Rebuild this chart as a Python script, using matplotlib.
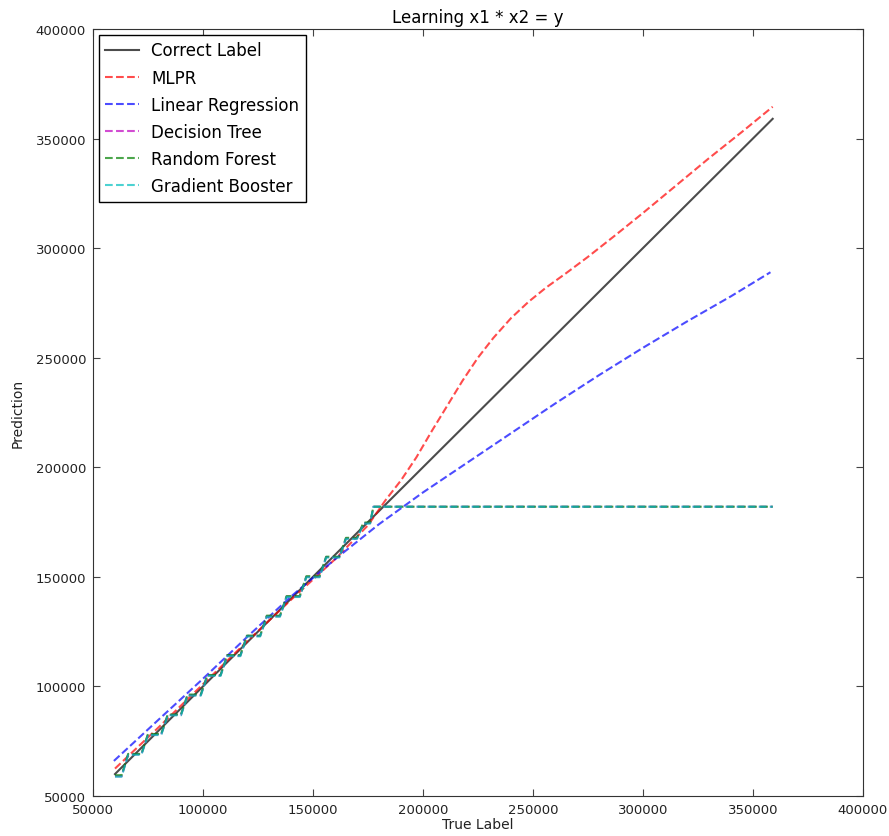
import matplotlib
matplotlib.use("Agg")
import matplotlib.pyplot as plt

# True label range
true_x = [60000, 359000]
true_y = [60000, 359000]

# MLPR predictions (sorted by true label)
mlpr_x = [60000, 80000, 100000, 120000, 140000, 160000, 175000, 183000, 190000, 197000,
          204000, 211000, 218000, 225000, 232000, 240000, 248000, 256000, 265000, 275000,
          287000, 300000, 315000, 330000, 345000, 359000]
mlpr_y = [62500, 81500, 101000, 120500, 139500, 158000, 173500, 185000, 194000, 204500,
          216500, 228000, 239500, 250000, 259000, 268000, 275500, 282000, 288500, 296000,
          305500, 316000, 328500, 341000, 353000, 364500]

# Linear regression predictions
lin_x = [59500, 80000, 100000, 120000, 140000, 160000, 180000, 200000, 220000, 240000,
         260000, 280000, 300000, 320000, 340000, 358000]
lin_y = [66000, 85000, 103500, 122500, 141000, 158000, 174000, 188500, 202000, 215500,
         229000, 242000, 254500, 266500, 278000, 289000]

# Tree-based models: each leaf gives a flat segment from start to end at a level
leaf_start = [60000, 66000, 75000, 84000, 93000, 102000, 111000, 120000, 129000, 138000,
              147000, 156000, 165000, 173000, 177500]
leaf_end = [63000, 72000, 81000, 90000, 99000, 108000, 117000, 126000, 135000, 144000,
            153000, 162000, 170000, 176000, 359000]
tree_levels = [59000, 69000, 78000, 87000, 96000, 105000, 114000, 123000, 132000, 141000,
               150000, 159000, 167500, 174500, 182000]
forest_levels = [59500, 69200, 78300, 87200, 96300, 105200, 114300, 123200, 132300, 141200,
                 150300, 159200, 167800, 174800, 182000]
boost_levels = [58800, 68800, 77800, 86800, 95800, 104800, 113800, 122800, 131800, 140800,
                149800, 158800, 167300, 174300, 182000]

x_ticks = [50000, 100000, 150000, 200000, 250000, 300000, 350000, 400000]
y_ticks = [50000, 100000, 150000, 200000, 250000, 300000, 350000, 400000]


def leaf_path(starts, ends, levels):
    xs, ys = [], []
    for a, b, v in zip(starts, ends, levels):
        xs += [a, b]
        ys += [v, v]
    return xs, ys


plt.rcParams['font.family'] = ['DejaVu Sans']
fig = plt.figure(figsize=(8.89, 8.37), dpi=100, facecolor='white')
ax = fig.add_axes([0.1046, 0.0478, 0.866, 0.9164])

lw = 1.5
ax.plot(true_x, true_y, '-', color='k', alpha=0.7, lw=lw, label='Correct Label')
ax.plot(mlpr_x, mlpr_y, '--', color='r', alpha=0.7, lw=lw, label='MLPR')
ax.plot(lin_x, lin_y, '--', color='b', alpha=0.7, lw=lw, label='Linear Regression')
tx, ty = leaf_path(leaf_start, leaf_end, tree_levels)
ax.plot(tx, ty, '--', color='m', alpha=0.7, lw=lw, label='Decision Tree')
fx, fy = leaf_path(leaf_start, leaf_end, forest_levels)
ax.plot(fx, fy, '--', color='g', alpha=0.7, lw=lw, label='Random Forest')
bx, by = leaf_path(leaf_start, leaf_end, boost_levels)
ax.plot(bx, by, '--', color='c', alpha=0.7, lw=lw, label='Gradient Booster')

ax.set_xlim(50000, 400000)
ax.set_ylim(50000, 400000)
ax.set_xticks(x_ticks)
ax.set_yticks(y_ticks)
ax.set_xticklabels([str(t) for t in x_ticks])
ax.set_yticklabels([str(t) for t in y_ticks])
ax.tick_params(direction='in', top=True, right=True, labelsize=9.5, length=5,
               color='#444444', labelcolor='#222222', pad=5)
for s in ax.spines.values():
    s.set_color('#333333')
ax.set_title('Learning x1 * x2 = y', fontsize=12, pad=5)
ax.set_xlabel('True Label', fontsize=10, labelpad=1, color='#222222')
ax.set_ylabel('Prediction', fontsize=10, labelpad=8, color='#222222')

leg = ax.legend(loc='upper left', fontsize=12, fancybox=False, framealpha=1,
                borderaxespad=0.35, handlelength=2.0, handletextpad=0.75,
                labelspacing=0.55)
leg.get_frame().set_edgecolor('black')
leg.get_frame().set_linewidth(1.0)

fig.savefig('out.png', dpi=100, facecolor='white')
